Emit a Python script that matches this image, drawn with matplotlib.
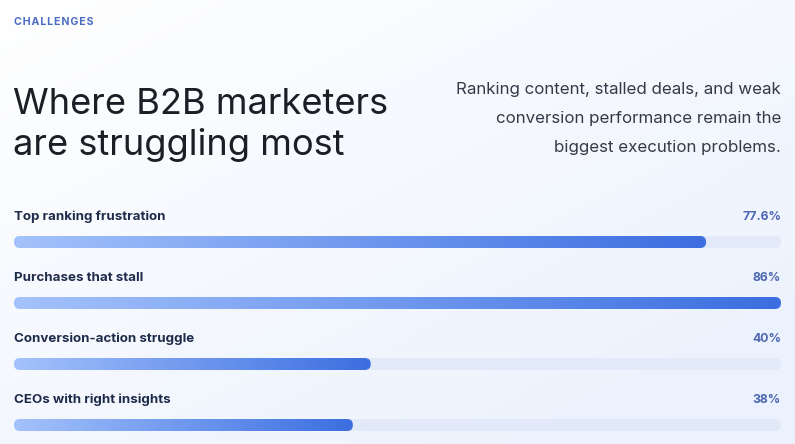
import numpy as np
import matplotlib
matplotlib.use("Agg")
import matplotlib.pyplot as plt
from matplotlib.patches import FancyBboxPatch
from matplotlib.colors import LinearSegmentedColormap

# ---- data ----
categories = ["Top ranking frustration", "Purchases that stall",
              "Conversion-action struggle", "CEOs with right insights"]
values = [77.6, 86, 40, 38]
value_labels = ["77.6%", "86%", "40%", "38%"]
eyebrow = "CHALLENGES"
title_lines = ["Where B2B marketers", "are struggling most"]
subtitle_lines = ["Ranking content, stalled deals, and weak",
                  "conversion performance remain the",
                  "biggest execution problems."]

W, H = 795, 444
DPI = 100
fig = plt.figure(figsize=(W / DPI, H / DPI), dpi=DPI)
FAM = ["Inter", "DejaVu Sans"]

# background gradient
bg = fig.add_axes([0, 0, 1, 1], zorder=0)
yy, xx = np.mgrid[0:1:200j, 0:1:200j]
t = np.clip(0.55 * xx + 0.6 * yy, 0, 1)
c0 = np.array([1.0, 1.0, 1.0])
c1 = np.array([0xec, 0xf2, 0xfd]) / 255
img = c0[None, None, :] * (1 - t[..., None]) + c1[None, None, :] * t[..., None]
bg.imshow(img, extent=(0, 1, 0, 1), origin="upper", aspect="auto")
bg.set_xlim(0, 1); bg.set_ylim(0, 1)
bg.axis("off")

# bar axes covering the figure, data scale: x in value units, y in row index
vmax = max(values)
left_px, right_px = 14, 781
xu = vmax / (right_px - left_px)          # value units per px
row0_px, row_gap_px = 242, 61
yu = 1 / row_gap_px                        # row units per px
ax = fig.add_axes([0, 0, 1, 1], zorder=1)
ax.patch.set_alpha(0)
ax.axis("off")

bar_h = 12 * yu
rad = 6 * xu
aspect = yu / xu

cmap = LinearSegmentedColormap.from_list("bar", ["#a4c2fb", "#6f98ee", "#3c6ee0"])
grad = np.linspace(0, 1, 256)[None, :]

for i, (v, lab, vl) in enumerate(zip(values, categories, value_labels)):
    track = FancyBboxPatch((0, i - bar_h / 2), vmax, bar_h,
                           boxstyle=f"round,pad=0,rounding_size={rad}",
                           mutation_aspect=aspect, fc="#e2e9f8", ec="none", zorder=2)
    ax.add_patch(track)
    bar = FancyBboxPatch((0, i - bar_h / 2), v, bar_h,
                         boxstyle=f"round,pad=0,rounding_size={rad}",
                         mutation_aspect=aspect, fc="none", ec="none", zorder=3)
    ax.add_patch(bar)
    im = ax.imshow(grad, cmap=cmap, extent=(0, v, i - bar_h / 2, i + bar_h / 2),
                   aspect="auto", zorder=3, interpolation="bilinear")
    im.set_clip_path(bar)
    ax.text(0, i - 25.5 * yu, lab, ha="left", va="center", fontsize=9.6,
            fontweight="bold", color="#1f2b4a", family=FAM)
    ax.text(vmax, i - 25.5 * yu, vl, ha="right", va="center", fontsize=8.8,
            fontweight="bold", color="#4c66b0", family=FAM)

ax.set_xlim(-left_px * xu, vmax + (W - right_px) * xu)
ax.set_ylim((H - row0_px) * yu, -row0_px * yu)


def px(x, y):
    return x / W, 1 - y / H


fig.text(*px(14, 22), "\u200a".join(eyebrow), ha="left", va="center",
         fontsize=7.6, fontweight="bold", color="#4a6cc2", family=FAM)
for k, line in enumerate(title_lines):
    fig.text(*px(13, 104 + 41 * k), line, ha="left", va="center",
             fontsize=26.1, fontweight="normal", color="#1b1e25", family=FAM)
for k, line in enumerate(subtitle_lines):
    fig.text(*px(781, 89 + 29 * k), line, ha="right", va="center",
             fontsize=12.2, color="#353a48", family=FAM)

fig.savefig("out.png", dpi=DPI)
